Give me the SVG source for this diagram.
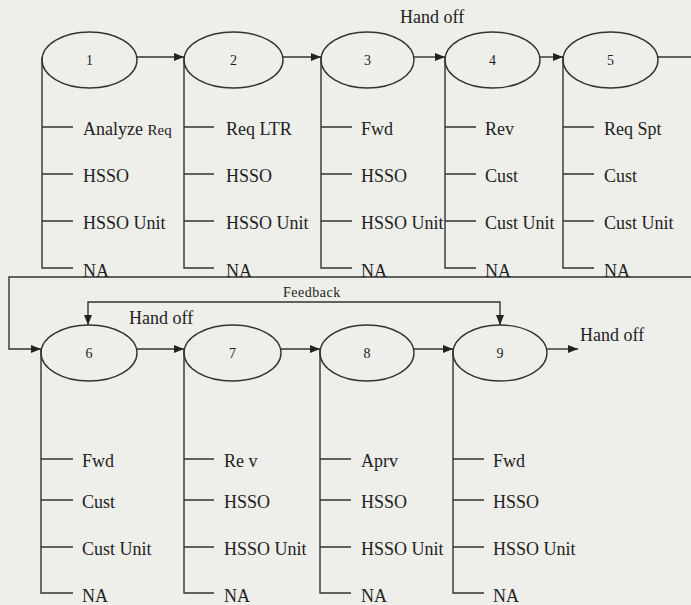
<svg xmlns="http://www.w3.org/2000/svg" width="691" height="605" viewBox="0 0 691 605">
<style>
text{font-family:"Liberation Serif","Times New Roman",serif;fill:#222}
.lbl{font-size:18px}
.sm{font-size:15px}
.num{font-size:14px;text-anchor:middle}
.ho{font-size:18px}
.fb{font-size:14px;letter-spacing:0.5px}
ellipse{fill:none;stroke:#333;stroke-width:1.4}
.ln{fill:none;stroke:#333;stroke-width:1.4}
</style>
<defs>
<marker id="ah" viewBox="0 0 10 8" refX="10" refY="4" markerWidth="10" markerHeight="8" markerUnits="userSpaceOnUse" orient="auto">
<path d="M0,0 L10,4 L0,8 Z" fill="#222"/>
</marker>
</defs>
<rect width="691" height="605" fill="#eeeeea"/>

<g id="connectors">
<path class="ln" d="M137,57 H184" marker-end="url(#ah)"/>
<path class="ln" d="M283,57 H321" marker-end="url(#ah)"/>
<path class="ln" d="M414,57 H445" marker-end="url(#ah)"/>
<path class="ln" d="M540,57 H563" marker-end="url(#ah)"/>
<path class="ln" d="M658,57 H691"/>
<path class="ln" d="M691,277 H9 V349 H41" marker-end="url(#ah)"/>
<path class="ln" d="M137,349 H184" marker-end="url(#ah)"/>
<path class="ln" d="M281,349 H320" marker-end="url(#ah)"/>
<path class="ln" d="M414,349 H453" marker-end="url(#ah)"/>
<path class="ln" d="M547,349 H578" marker-end="url(#ah)"/>
<path class="ln" d="M300,302 H88 V325" marker-end="url(#ah)"/>
<path class="ln" d="M300,302 H500 V325" marker-end="url(#ah)"/>
</g>

<g id="labels">
<text class="ho" x="400" y="23">Hand off</text>
<text class="ho" x="129" y="324">Hand off</text>
<text class="ho" x="580" y="341">Hand off</text>
<text class="fb" x="283" y="297">Feedback</text>
</g>

<g id="node1">
<ellipse cx="89.5" cy="60" rx="47.5" ry="28"/>
<text class="num" x="89.5" y="65">1</text>
<path class="ln" d="M42,57 V268 H73 M42,127 H73 M42,174 H73 M42,221 H73"/>
<text class="lbl" x="83" y="135">Analyze <tspan class="sm">Req</tspan></text>
<text class="lbl" x="83" y="182">HSSO</text>
<text class="lbl" x="83" y="229">HSSO Unit</text>
<text class="lbl" x="83" y="277">NA</text>
</g>
<g id="node2">
<ellipse cx="233.5" cy="60" rx="49.5" ry="28"/>
<text class="num" x="233.5" y="65">2</text>
<path class="ln" d="M184,57 V268 H214 M184,127 H214 M184,174 H214 M184,221 H214"/>
<text class="lbl" x="226" y="135">Req LTR</text>
<text class="lbl" x="226" y="182">HSSO</text>
<text class="lbl" x="226" y="229">HSSO Unit</text>
<text class="lbl" x="226" y="277">NA</text>
</g>
<g id="node3">
<ellipse cx="367.5" cy="60" rx="46.5" ry="28"/>
<text class="num" x="367.5" y="65">3</text>
<path class="ln" d="M321,57 V268 H352 M321,127 H352 M321,174 H352 M321,221 H352"/>
<text class="lbl" x="361" y="135">Fwd</text>
<text class="lbl" x="361" y="182">HSSO</text>
<text class="lbl" x="361" y="229">HSSO Unit</text>
<text class="lbl" x="361" y="277">NA</text>
</g>
<g id="node4">
<ellipse cx="492.5" cy="60" rx="47.5" ry="28"/>
<text class="num" x="492.5" y="65">4</text>
<path class="ln" d="M445,57 V268 H476 M445,127 H476 M445,174 H476 M445,221 H476"/>
<text class="lbl" x="485" y="135">Rev</text>
<text class="lbl" x="485" y="182">Cust</text>
<text class="lbl" x="485" y="229">Cust Unit</text>
<text class="lbl" x="485" y="277">NA</text>
</g>
<g id="node5">
<ellipse cx="610.5" cy="60" rx="47.5" ry="28"/>
<text class="num" x="610.5" y="65">5</text>
<path class="ln" d="M563,57 V268 H594 M563,127 H594 M563,174 H594 M563,221 H594"/>
<text class="lbl" x="604" y="135">Req Spt</text>
<text class="lbl" x="604" y="182">Cust</text>
<text class="lbl" x="604" y="229">Cust Unit</text>
<text class="lbl" x="604" y="277">NA</text>
</g>

<g id="node6">
<ellipse cx="89" cy="353" rx="48" ry="28"/>
<text class="num" x="89" y="358">6</text>
<path class="ln" d="M41,349 V593 H73 M41,459 H73 M41,500 H73 M41,547 H73"/>
<text class="lbl" x="82" y="467">Fwd</text>
<text class="lbl" x="82" y="508">Cust</text>
<text class="lbl" x="82" y="555">Cust Unit</text>
<text class="lbl" x="82" y="602">NA</text>
</g>
<g id="node7">
<ellipse cx="232.5" cy="353" rx="48.5" ry="28"/>
<text class="num" x="232.5" y="358">7</text>
<path class="ln" d="M184,349 V593 H214 M184,459 H214 M184,500 H214 M184,547 H214"/>
<text class="lbl" x="224" y="467">Re v</text>
<text class="lbl" x="224" y="508">HSSO</text>
<text class="lbl" x="224" y="555">HSSO Unit</text>
<text class="lbl" x="224" y="602">NA</text>
</g>
<g id="node8">
<ellipse cx="367" cy="353" rx="47" ry="28"/>
<text class="num" x="367" y="358">8</text>
<path class="ln" d="M320,349 V593 H351 M320,459 H351 M320,500 H351 M320,547 H351"/>
<text class="lbl" x="361" y="467">Aprv</text>
<text class="lbl" x="361" y="508">HSSO</text>
<text class="lbl" x="361" y="555">HSSO Unit</text>
<text class="lbl" x="361" y="602">NA</text>
</g>
<g id="node9">
<ellipse cx="500" cy="353" rx="47" ry="28"/>
<text class="num" x="500" y="358">9</text>
<path class="ln" d="M453,349 V593 H484 M453,459 H484 M453,500 H484 M453,547 H484"/>
<text class="lbl" x="493" y="467">Fwd</text>
<text class="lbl" x="493" y="508">HSSO</text>
<text class="lbl" x="493" y="555">HSSO Unit</text>
<text class="lbl" x="493" y="602">NA</text>
</g>
</svg>
